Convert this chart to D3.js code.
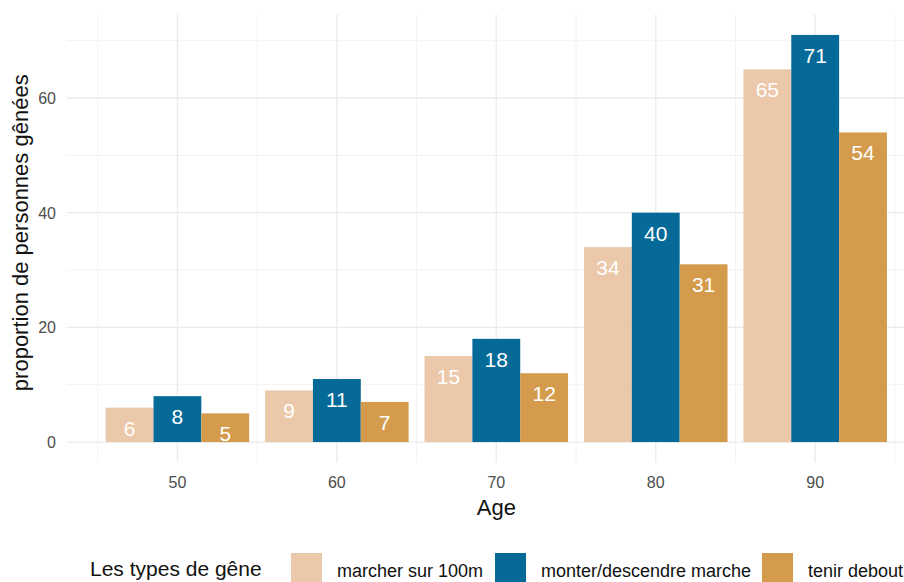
<!DOCTYPE html>
<html>
<head>
<meta charset="utf-8">
<script src="https://cdn.jsdelivr.net/npm/d3@7"></script>
<style>
  body { margin: 0; background: #fff; }
  svg { display: block; font-family: "Liberation Sans", Arial, sans-serif; }
</style>
</head>
<body>
<div id="chart"></div>
<script>
"use strict";

// data
const ages = [50, 60, 70, 80, 90];
const types = ["marcher sur 100m", "monter/descendre marche", "tenir debout"];
const marcher = [6, 9, 15, 34, 65];
const monter = [8, 11, 18, 40, 71];
const tenir = [5, 7, 12, 31, 54];
const yTicks = [0, 20, 40, 60];
const yMinor = [10, 30, 50, 70];
const xMinor = [45, 55, 65, 75, 85, 95];

const colors = ["#ebc8a9", "#056a98", "#d49b4c"];
const series = [marcher, monter, tenir];

const W = 904, H = 582;
const svg = d3.select("#chart").append("svg")
    .attr("width", W).attr("height", H);

// scales (ggplot-like 5% expansion)
const x = d3.scaleLinear().domain([43.05, 96.95]).range([66.6, 926]);
const y = d3.scaleLinear().domain([-3.55, 74.55]).range([462.4, 14.6]);
const barW = 3; // units, dodge of width 9

const panel = svg.append("g");

// grid
panel.selectAll("line.ymin").data(yMinor).enter().append("line")
    .attr("x1", x(43.05)).attr("x2", W)
    .attr("y1", d => y(d)).attr("y2", d => y(d))
    .attr("stroke", "#f2f2f2").attr("stroke-width", 1);
panel.selectAll("line.xmin").data(xMinor).enter().append("line")
    .attr("x1", d => x(d)).attr("x2", d => x(d))
    .attr("y1", y(74.55)).attr("y2", y(-3.55))
    .attr("stroke", "#f2f2f2").attr("stroke-width", 1);
panel.selectAll("line.ymaj").data(yTicks).enter().append("line")
    .attr("x1", x(43.05)).attr("x2", W)
    .attr("y1", d => y(d)).attr("y2", d => y(d))
    .attr("stroke", "#ebebeb").attr("stroke-width", 1.3);
panel.selectAll("line.xmaj").data(ages).enter().append("line")
    .attr("x1", d => x(d)).attr("x2", d => x(d))
    .attr("y1", y(74.55)).attr("y2", y(-3.55))
    .attr("stroke", "#ebebeb").attr("stroke-width", 1.3);

// bars
const bars = [];
series.forEach((s, k) => {
    s.forEach((v, i) => bars.push({age: ages[i], k: k, v: v}));
});

panel.selectAll("rect.bar").data(bars).enter().append("rect")
    .attr("class", "bar")
    .attr("x", d => x(d.age - 4.5 + d.k * barW))
    .attr("width", d => x(barW) - x(0))
    .attr("y", d => y(d.v))
    .attr("height", d => y(0) - y(d.v))
    .attr("fill", d => colors[d.k]);

panel.selectAll("text.lab").data(bars).enter().append("text")
    .attr("x", d => x(d.age - 4.5 + d.k * barW + barW / 2))
    .attr("y", d => y(d.v) + 28)
    .attr("text-anchor", "middle")
    .attr("font-size", 21)
    .attr("fill", "#ffffff")
    .text(d => d.v);

// axis labels
svg.append("g").selectAll("text").data(yTicks).enter().append("text")
    .attr("x", 56).attr("y", d => y(d) + 6)
    .attr("text-anchor", "end")
    .attr("font-size", 16).attr("fill", "#4d4d4d")
    .text(d => d);

svg.append("g").selectAll("text").data(ages).enter().append("text")
    .attr("x", d => x(d)).attr("y", 488)
    .attr("text-anchor", "middle")
    .attr("font-size", 16).attr("fill", "#4d4d4d")
    .text(d => d);

svg.append("text")
    .attr("x", x(70)).attr("y", 515)
    .attr("text-anchor", "middle")
    .attr("font-size", 22).attr("fill", "#111")
    .text("Age");

svg.append("text")
    .attr("transform", `translate(28, ${y(36.5)}) rotate(-90)`)
    .attr("text-anchor", "middle")
    .attr("font-size", 22).attr("fill", "#111")
    .text("proportion de personnes gênées");

// legend
const leg = svg.append("g");
leg.append("text")
    .attr("x", 90).attr("y", 576)
    .attr("font-size", 21).attr("fill", "#111")
    .text("Les types de gêne");

const legX = [291, 495, 762];
types.forEach((t, k) => {
    leg.append("rect")
        .attr("x", legX[k]).attr("y", 553)
        .attr("width", 31).attr("height", 34)
        .attr("fill", colors[k]);
    leg.append("text")
        .attr("x", legX[k] + 46).attr("y", 577)
        .attr("font-size", 18).attr("fill", "#111")
        .text(t);
});
</script>
</body>
</html>
